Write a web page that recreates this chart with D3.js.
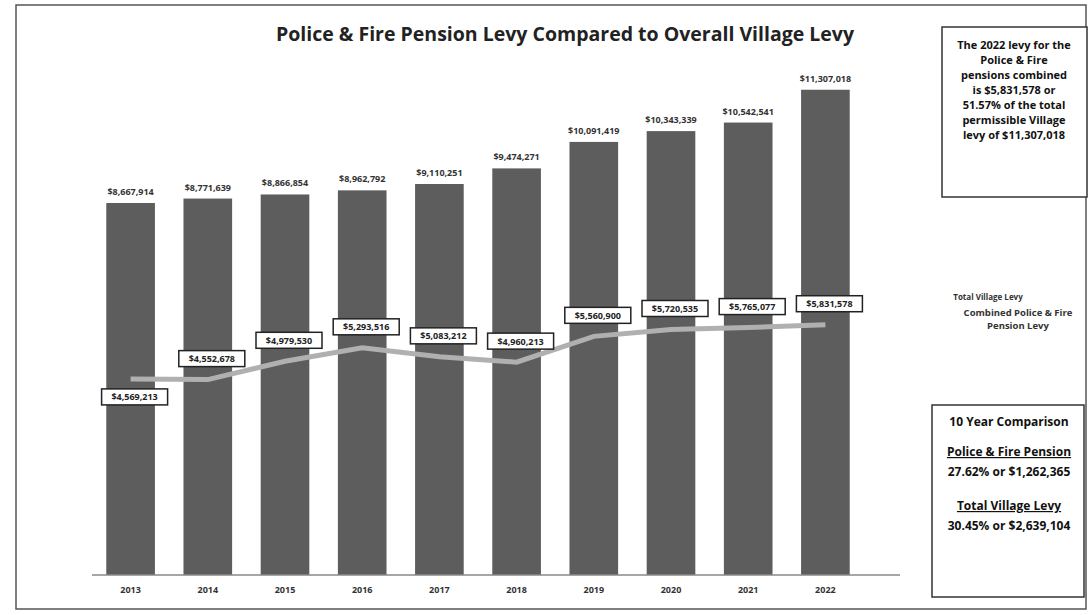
<!DOCTYPE html>
<html>
<head>
<meta charset="utf-8">
<script src="https://cdn.jsdelivr.net/npm/d3@7"></script>
<style>
  body { margin: 0; background: #fff; }
  #canvas { width: 1091px; height: 615px; }
  text { font-family: "Open Sans", "DejaVu Sans", sans-serif; }
</style>
</head>
<body>
<div id="canvas"></div>
<script>
const years = ["2013", "2014", "2015", "2016", "2017", "2018", "2019", "2020", "2021", "2022"];
const villageLevy = [8667914, 8771639, 8866854, 8962792, 9110251, 9474271, 10091419, 10343339, 10542541, 11307018];
const pensionLevy = [4569213, 4552678, 4979530, 5293516, 5083212, 4960213, 5560900, 5720535, 5765077, 5831578];
const noteLines = ["The 2022 levy for the", "Police & Fire", "pensions combined", "is $5,831,578 or",
                   "51.57% of the total", "permissible Village", "levy of $11,307,018"];
const compareLines = ["10 Year Comparison", "Police & Fire Pension", "27.62% or $1,262,365",
                      "Total Village Levy", "30.45% or $2,639,104"];
const legendLabels = ["Total Village Levy", "Combined Police & Fire", "Pension Levy"];

const w = 1091, h = 615;
const fmt = d3.format("$,");

let svg = d3.select("#canvas")
            .append("svg")
                .attr("width", w)
                .attr("height", h)
                .attr("viewBox", [0, 0, w, h]);

// outer frame
svg.append("rect")
    .attr("x", 16).attr("y", 5)
    .attr("width", 1070).attr("height", 604)
    .attr("fill", "none").attr("stroke", "#555").attr("stroke-width", 1.5);

svg.append("text")
    .attr("x", 565).attr("y", 41)
    .attr("text-anchor", "middle")
    .attr("font-size", 19.5).attr("font-weight", "bold")
    .attr("fill", "#222")
    .text("Police & Fire Pension Levy Compared to Overall Village Levy");

let x = d3.scaleBand()
    .domain(years)
    .range([92, 864])
    .paddingInner(0.37)
    .paddingOuter(0.185);

let y = d3.scaleLinear()
    .domain([0, 12000000])
    .range([575, 60]);

let g = svg.append("g");

g.selectAll("rect.bar")
    .data(villageLevy)
  .enter().append("rect")
    .attr("class", "bar")
    .attr("x", (d, i) => x(years[i]))
    .attr("y", (d) => y(d))
    .attr("width", x.bandwidth())
    .attr("height", (d) => y(0) - y(d))
    .attr("fill", "#5d5d5d");

g.selectAll("text.barlabel")
    .data(villageLevy)
  .enter().append("text")
    .attr("class", "barlabel")
    .attr("x", (d, i) => x(years[i]) + x.bandwidth() / 2)
    .attr("y", (d) => y(d) - 8)
    .attr("text-anchor", "middle")
    .attr("font-size", 9).attr("font-weight", "bold")
    .attr("fill", "#333")
    .text((d) => fmt(d));

// x axis
let xAxis = d3.axisBottom(x).tickSize(0).tickPadding(12);
let gX = svg.append("g")
    .attr("transform", "translate(0," + y(0) + ")")
    .call(xAxis);
gX.select(".domain").remove();
gX.selectAll("text")
    .attr("font-size", 9).attr("font-weight", "bold")
    .attr("fill", "#333")
    .style("font-family", "'Open Sans', sans-serif");
svg.append("line")
    .attr("x1", 92).attr("x2", 900)
    .attr("y1", y(0)).attr("y2", y(0))
    .attr("stroke", "#888").attr("stroke-width", 1.5);

// pension line
let line = d3.line()
    .x((d, i) => x(years[i]) + x.bandwidth() / 2)
    .y((d) => y(d));

g.append("path")
    .datum(pensionLevy)
    .attr("d", line)
    .attr("fill", "none")
    .attr("stroke", "#b0b0b0")
    .attr("stroke-width", 5);

let labels = g.selectAll("g.plabel")
    .data(pensionLevy)
  .enter().append("g")
    .attr("class", "plabel")
    .attr("transform", (d, i) => "translate(" + (x(years[i]) + x.bandwidth() / 2 + 4) + "," + (y(d) + (i == 0 ? 18 : -21)) + ")");

labels.append("rect")
    .attr("x", -33).attr("y", -8)
    .attr("width", 66).attr("height", 16)
    .attr("fill", "#fff")
    .attr("stroke", "#222").attr("stroke-width", 1.5);

labels.append("text")
    .attr("y", 3.5)
    .attr("text-anchor", "middle")
    .attr("font-size", 9).attr("font-weight", "bold")
    .attr("fill", "#222")
    .text((d) => fmt(d));

// note box
svg.append("rect")
    .attr("x", 942).attr("y", 27)
    .attr("width", 145).attr("height", 170)
    .attr("fill", "#fff").attr("stroke", "#333").attr("stroke-width", 1.5);

svg.selectAll("text.note")
    .data(noteLines)
  .enter().append("text")
    .attr("class", "note")
    .attr("x", 1014)
    .attr("y", (d, i) => 49 + i * 15)
    .attr("text-anchor", "middle")
    .attr("font-size", 11).attr("font-weight", "bold")
    .attr("fill", "#111")
    .text((d) => d);

// legend
svg.selectAll("text.legend")
    .data(legendLabels)
  .enter().append("text")
    .attr("class", "legend")
    .attr("x", (d, i) => i == 0 ? 988 : 1018)
    .attr("y", (d, i) => [300, 316, 329][i])
    .attr("text-anchor", "middle")
    .attr("font-size", (d, i) => i == 0 ? 8 : 9.5).attr("font-weight", "bold")
    .attr("fill", "#333")
    .text((d) => d);

// comparison box
svg.append("rect")
    .attr("x", 932).attr("y", 405)
    .attr("width", 152).attr("height", 192)
    .attr("fill", "#fff").attr("stroke", "#333").attr("stroke-width", 1.5);

svg.selectAll("text.cmp")
    .data(compareLines)
  .enter().append("text")
    .attr("class", "cmp")
    .attr("x", 1009)
    .attr("y", (d, i) => [426, 456, 476, 510, 530][i])
    .attr("text-anchor", "middle")
    .attr("font-size", 12).attr("font-weight", "bold")
    .attr("fill", "#111")
    .attr("text-decoration", (d, i) => (i == 1 || i == 3) ? "underline" : null)
    .text((d) => d);
</script>
</body>
</html>
